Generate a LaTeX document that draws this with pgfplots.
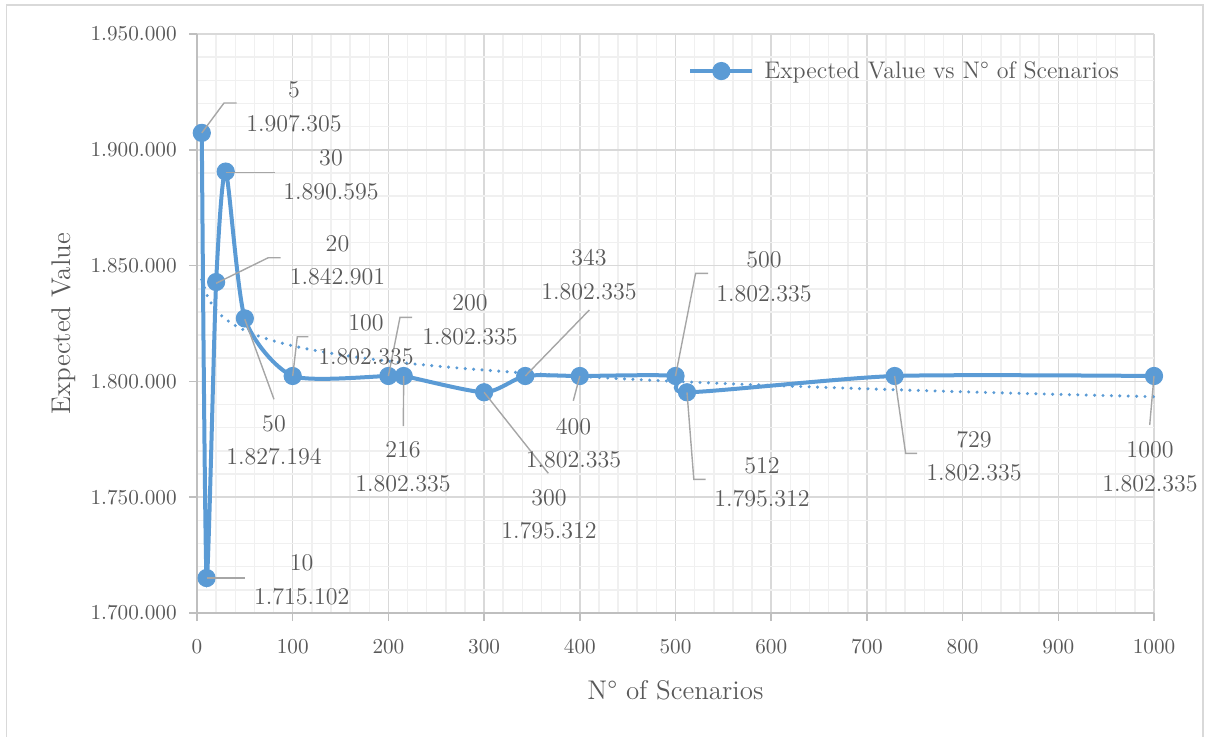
\documentclass[border=0pt]{standalone}
\usepackage{pgfplots}
\usepackage{pgfplotstable}
\pgfplotsset{compat=1.18}

\definecolor{evblue}{HTML}{5B9BD5}
\definecolor{textgray}{HTML}{595959}
\definecolor{gridmajor}{HTML}{D9D9D9}
\definecolor{gridminor}{HTML}{F0F0F0}
\definecolor{axisgray}{HTML}{BFBFBF}
\definecolor{leadergray}{HTML}{A6A6A6}
\definecolor{framegray}{HTML}{D9D9D9}

% Expected value of the objective for each number of scenarios
\pgfplotstableread{
N     EV
5     1907305
10    1715102
20    1842901
30    1890595
50    1827194
100   1802335
200   1802335
216   1802335
300   1795312
343   1802335
400   1802335
500   1802335
512   1795312
729   1802335
1000  1802335
}\evtable

% logarithmic trend line: EV = a*ln(N) + b, fitted by least squares
\pgfplotstablecreatecol[create col/expr={ln(\thisrow{N})}]{lnN}\evtable
\pgfplotstablecreatecol[linear regression={x=lnN,y=EV}]{fit}\evtable
\xdef\trendslope{\pgfplotstableregressiona}
\xdef\trendicept{\pgfplotstableregressionb}

% data label: number of scenarios above, expected value below
\newcommand\dlabel[5]{%
  \node[lbl] at (#1,#2) {#4};
  \node[lbl] at (#1,#3) {#5};}

\begin{document}
\begin{tikzpicture}
\path[use as bounding box] (0pt,0pt) rectangle (602.5pt,368pt);
\draw[framegray, line width=0.75pt] (3.25pt,-4pt) rectangle (601.5pt,365.5pt);

\begin{axis}[
  at={(98.5pt,61.5pt)}, anchor=south west,
  scale only axis, width=478.5pt, height=289.5pt,
  xmin=0, xmax=1000, ymin=1700000, ymax=1950000,
  xtick distance=100, ytick distance=50000,
  minor x tick num=4, minor y tick num=4,
  grid=both,
  major grid style={gridmajor, line width=0.75pt},
  minor grid style={gridminor, line width=0.75pt},
  axis x line*=bottom, axis y line*=left,
  axis line style={axisgray, line width=0.9pt, -},
  tick align=outside, major tick length=4pt, minor tick length=0pt,
  tick style={axisgray, line width=0.75pt},
  scaled y ticks=false,
  ticklabel style={text=textgray, font=\fontsize{10.6}{12}\selectfont, inner sep=0pt},
  yticklabel style={xshift=-6pt, /pgf/number format/.cd, fixed, precision=0,
    1000 sep={.}, assume math mode=true},
  xticklabel style={yshift=-9pt, /pgf/number format/.cd, fixed, precision=0,
    1000 sep={}, assume math mode=true},
  xlabel={N\textdegree{} of Scenarios},
  ylabel={Expected Value},
  every axis x label/.style={at={(axis description cs:0.5,-0.133)}, anchor=center,
    text=textgray, font=\fontsize{13.5}{16}\selectfont},
  every axis y label/.style={at={(axis description cs:-0.139,0.5)}, anchor=center,
    rotate=90, text=textgray, font=\fontsize{13.5}{16}\selectfont},
  clip=false,
  legend style={draw=none, fill=none, at={(axis description cs:0.513,0.936)},
    anchor=west, inner sep=0pt, text=textgray,
    font=\fontsize{12}{14}\selectfont,
    nodes={inner sep=0pt},
    /tikz/every odd column/.append style={column sep=5pt}},
  legend image code/.code={%
    \draw[mark repeat=2, mark phase=2, #1]
      plot coordinates {(0pt,0pt) (15.5pt,0pt) (31pt,0pt)};},
]
\addplot[evblue, line width=2pt, smooth, tension=0.4,
  mark=*, mark size=4.3pt,
  mark options={solid, fill=evblue, draw=evblue, line width=0.5pt}]
  table[x=N, y=EV] {\evtable};
\addlegendentry{Expected Value vs N\textdegree{} of Scenarios}

\addplot[evblue, line width=1.7pt, line cap=round, dash pattern=on 0pt off 4.2pt,
  domain=5:1000, samples=150, forget plot]
  {\trendicept + \trendslope*ln(x)};
\end{axis}

% leader lines and data labels
\begin{scope}[x=0.5pt, y=-0.5pt, shift={(0pt,368pt)},
  lbl/.style={inner sep=0pt, text=textgray, font=\fontsize{12}{14}\selectfont},
  leader/.style={leadergray, line width=0.7pt}]
\draw[leader] (201.8,132.9) -- (224,103) -- (236.7,103);
\draw[leader] (225.7,172.3) -- (275,172.3);
\draw[leader] (216.1,283.3) -- (268.3,257.7) -- (280.7,257.7);
\draw[leader] (244.8,319.3) -- (274,399.3);
\draw[leader] (292.7,376.0) -- (297.3,336.7) -- (308.3,336.7);
\draw[leader] (388.4,376.0) -- (400,317.3) -- (412,317.3);
\draw[leader] (403.7,376.0) -- (403.3,426);
\draw[leader] (484.1,392.3) -- (548.3,473.3);
\draw[leader] (525.3,376.0) -- (589.3,310);
\draw[leader] (579.8,376.0) -- (573.3,400.7);
\draw[leader] (675.5,376.0) -- (695.6,273.3) -- (708.2,273.3);
\draw[leader] (687.0,392.3) -- (693.8,479.3) -- (705.7,479.3);
\draw[leader] (894.6,376.0) -- (905.6,453.3) -- (917.1,453.3);
\draw[leader] (1154,376.0) -- (1149.7,425);
\draw[leader] (206.6,577.9) -- (245,577.9);

\dlabel{294}{90}{124}{5}{1.907.305}
\dlabel{331}{158}{192}{30}{1.890.595}
\dlabel{337.5}{244}{277}{20}{1.842.901}
\dlabel{274}{424}{457}{50}{1.827.194}
\dlabel{366}{323}{357}{100}{1.802.335}
\dlabel{470}{303}{337}{200}{1.802.335}
\dlabel{403}{450}{483.5}{216}{1.802.335}
\dlabel{549}{498}{531}{300}{1.795.312}
\dlabel{589}{258}{292}{343}{1.802.335}
\dlabel{573.5}{426.5}{460}{400}{1.802.335}
\dlabel{764}{260}{293.3}{500}{1.802.335}
\dlabel{762}{466}{499}{512}{1.795.312}
\dlabel{974}{440}{473}{729}{1.802.335}
\dlabel{1150}{450}{483.5}{1000}{1.802.335}
\dlabel{301.7}{563}{597}{10}{1.715.102}
\end{scope}
\end{tikzpicture}
\end{document}
